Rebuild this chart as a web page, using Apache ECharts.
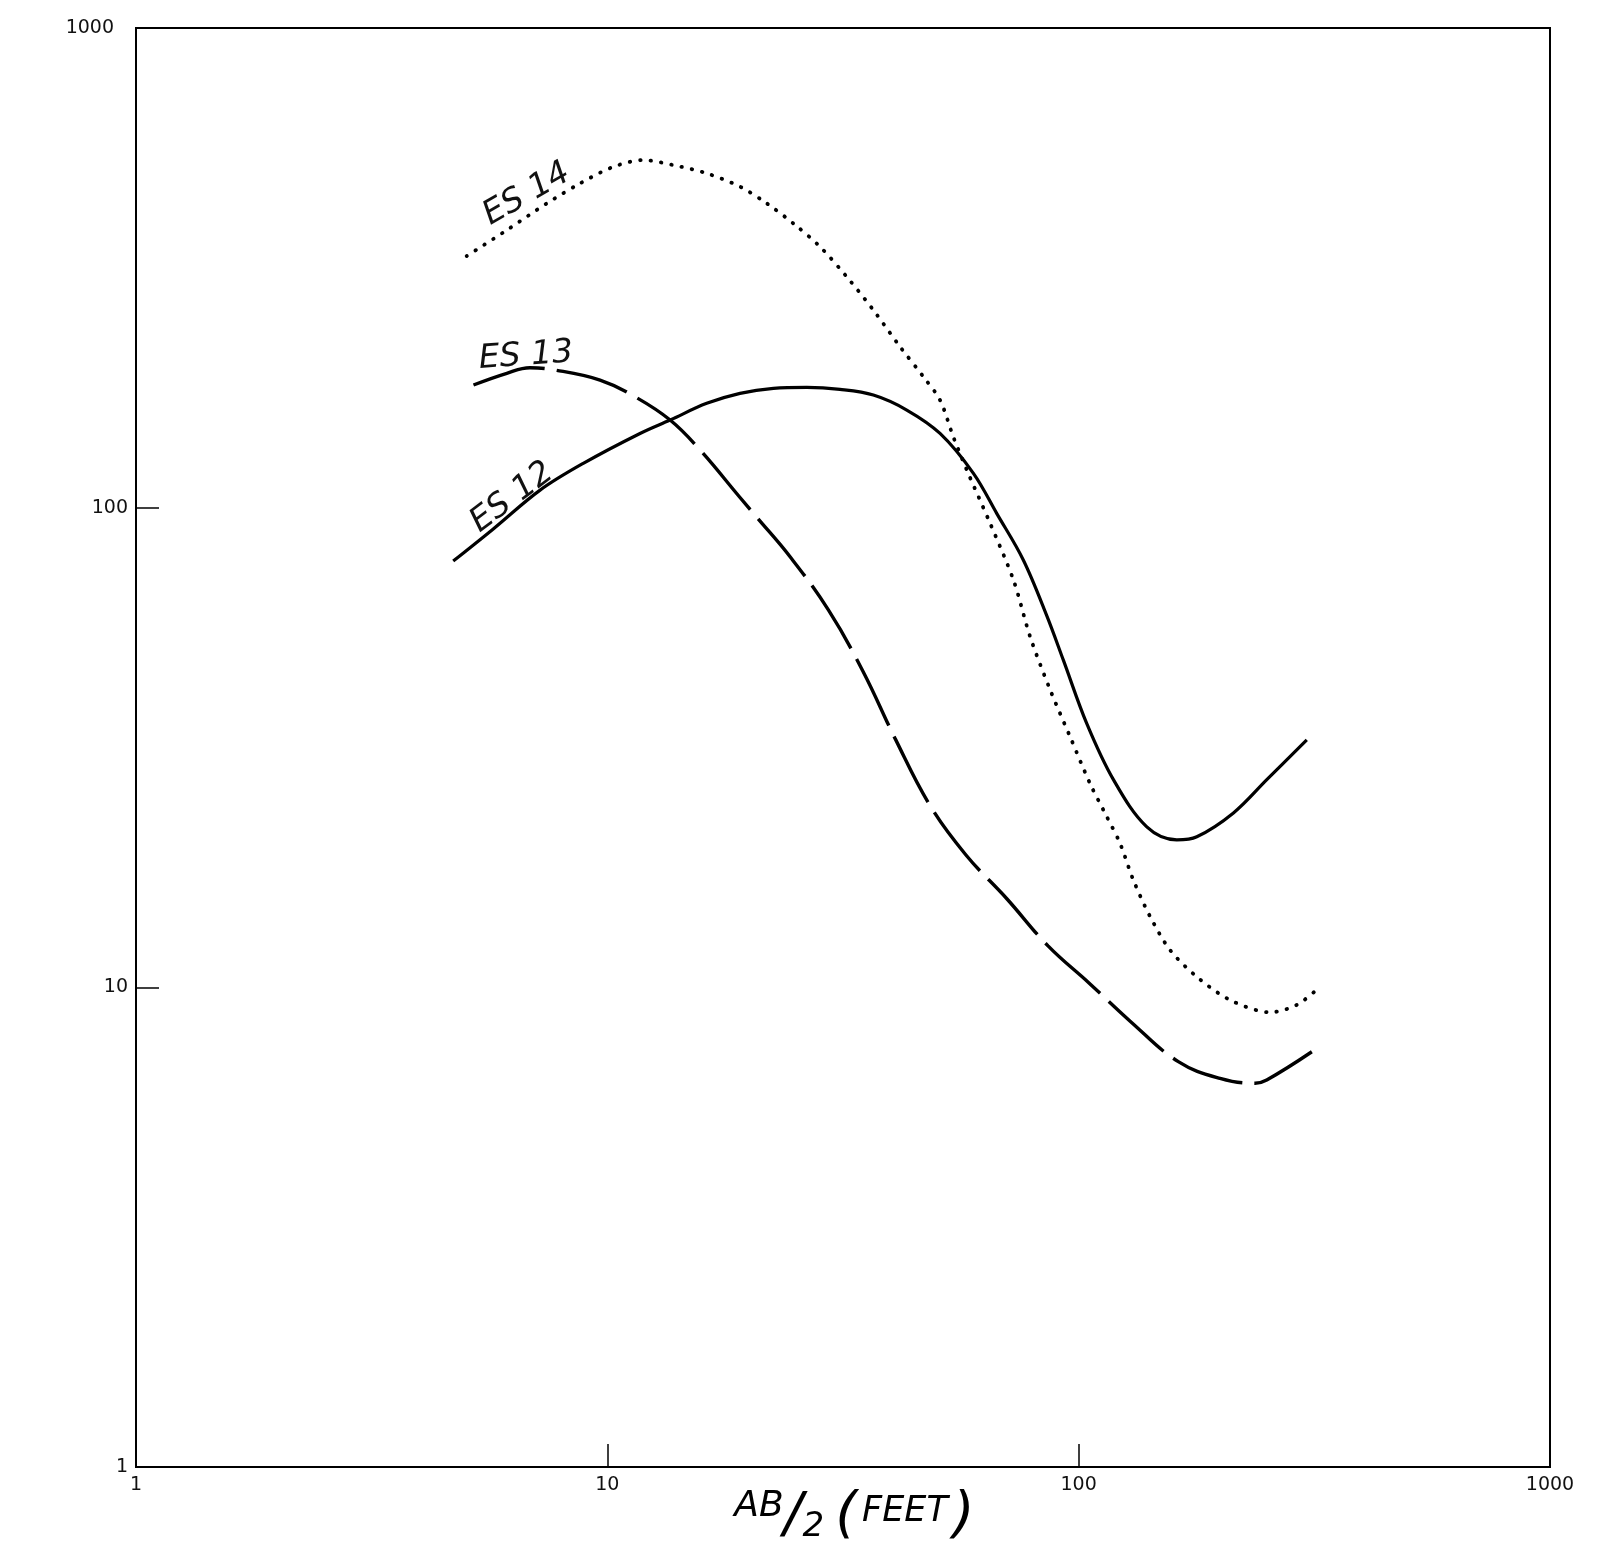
<!DOCTYPE html>
<html>
<head>
<meta charset="utf-8">
<title>ES 12 / ES 13 / ES 14</title>
<script src="https://cdn.jsdelivr.net/npm/echarts@6/dist/echarts.min.js"></script>
<style>
  html, body { margin: 0; padding: 0; background: #fff; }
  #chart { width: 1611px; height: 1566px; }
</style>
</head>
<body>
<div id="chart"></div>
<script>
// AB/2 (feet) and apparent resistivity
const es12X = [4.71, 5.72, 7.2, 8.89, 11.73, 13.59, 16.25, 19.12, 22.51, 26.49, 31.16, 36.68, 43.18, 50.8, 59.8, 67.0, 76.3, 85.6, 92.8, 104, 118.5, 139.5, 161.5, 178.1, 213, 250.7, 304.8];
const es12Y = [77.4, 90.2, 108.8, 123.7, 142.8, 152.3, 165, 173.1, 177.3, 178.1, 176.4, 171.7, 159.8, 142.8, 117.9, 97.3, 77.8, 59.5, 48.1, 35.5, 27.1, 21.6, 20.3, 20.6, 23.1, 27.1, 32.8];

const es13X = [5.2, 6.12, 6.85, 7.75, 9.65, 11.45, 13.59, 15.73, 19.12, 20.75, 24.42, 29.44, 34.9, 40.8, 48.3, 57.6, 70.4, 86.1, 105.3, 128.6, 162.7, 199.5, 236.7, 250.6, 312.4];
const es13Y = [180.2, 190.6, 195.7, 193.6, 184.5, 170.3, 152.3, 131.9, 105, 95.5, 79.0, 61.2, 45.5, 33, 24, 18.9, 15.3, 12.2, 10.2, 8.5, 7.0, 6.46, 6.31, 6.41, 7.34];

const es14X = [5.03, 6.12, 7.44, 8.75, 10.3, 11.92, 13.8, 16.25, 19.12, 21.79, 24.81, 28.27, 32.21, 36.68, 41.79, 46.83, 50.8, 54.2, 57.9, 64.9, 72.7, 78.9, 87.0, 95.9, 105.7, 114.7, 122.4, 130.6, 141.8, 156.3, 178.1, 209.5, 254.7, 290.2, 325.2];
const es14Y = [334.6, 379, 430.9, 474.2, 513.6, 530.4, 517.9, 497.7, 466.9, 430.9, 391.4, 349.9, 302.9, 258.2, 216.5, 187.5, 167.6, 140.5, 119.8, 92.7, 70.7, 53.8, 41.7, 33.3, 26.6, 22.7, 19.96, 16.74, 14.04, 11.96, 10.52, 9.41, 8.87, 9.19, 10.03];

const tickValues = [1, 10, 100, 1000];

// curve name and where its hand-lettered tag sits (data coords)
const curveTags = [
  { name: 'ES 14', at: [6.75, 450], rot: 30 },
  { name: 'ES 13', at: [6.72, 207], rot: 4 },
  { name: 'ES 12', at: [6.28, 105], rot: 37 }
];

function pairs(xs, ys) {
  return xs.map((x, i) => [x, ys[i]]);
}

const myChart = echarts.init(document.getElementById('chart'));

myChart.setOption({
  animation: false,
  backgroundColor: '#fff',
  grid: {
    left: 136,
    right: 61,
    top: 28,
    bottom: 99,
    show: true,
    borderColor: '#000',
    borderWidth: 2
  },
  xAxis: {
    type: 'log',
    logBase: 10,
    min: 1,
    max: 1000,
    axisLine: { show: true, lineStyle: { color: '#000', width: 2 } },
    axisTick: { show: true, inside: true, length: 23, lineStyle: { color: '#000', width: 1.5 } },
    splitLine: { show: false },
    axisLabel: {
      margin: 9,
      color: '#111',
      fontFamily: 'DejaVu Sans',
      fontSize: 19,
      formatter: v => String(Math.round(v))
    }
  },
  yAxis: {
    type: 'log',
    logBase: 10,
    min: 1,
    max: 1000,
    axisLine: { show: true, lineStyle: { color: '#000', width: 2 } },
    axisTick: { show: true, inside: true, length: 23, lineStyle: { color: '#000', width: 1.5 } },
    splitLine: { show: false },
    axisLabel: {
      margin: 8,
      color: '#111',
      fontFamily: 'DejaVu Sans',
      fontSize: 19,
      formatter: v => {
        const s = String(Math.round(v));
        return s === '1000' ? '{k|' + s + '}' : s;
      },
      rich: {
        k: { fontFamily: 'DejaVu Sans', fontSize: 19, color: '#111', padding: [0, 14, 0, 0] }
      }
    }
  },
  series: [
    {
      name: 'ES 12',
      type: 'line',
      data: pairs(es12X, es12Y),
      smooth: 0.35,
      showSymbol: false,
      lineStyle: { color: '#000', width: 3.2 }
    },
    {
      name: 'ES 13',
      type: 'line',
      data: pairs(es13X, es13Y),
      smooth: 0.4,
      showSymbol: false,
      lineStyle: { color: '#000', width: 3.4, type: [74, 12] }
    },
    {
      name: 'ES 14',
      type: 'line',
      data: pairs(es14X, es14Y),
      smooth: 0.3,
      showSymbol: false,
      lineStyle: { color: '#000', width: 3.8, type: [0.5, 10], cap: 'round' }
    }
  ]
});

// hand lettering: curve tags and the x title
const tagEls = curveTags.map(t => {
  const p = myChart.convertToPixel({ gridIndex: 0 }, t.at);
  return {
    type: 'text',
    x: p[0],
    y: p[1],
    rotation: t.rot * Math.PI / 180,
    style: {
      text: t.name,
      fill: '#111',
      fontFamily: 'DejaVu Sans',
      fontStyle: 'italic',
      fontSize: 33,
      align: 'center',
      verticalAlign: 'middle'
    }
  };
});

const titleFont = { fontFamily: 'DejaVu Sans', fontStyle: 'italic', color: '#111', verticalAlign: 'middle' };

myChart.setOption({
  graphic: tagEls.concat([{
    type: 'text',
    x: 857,
    y: 1516,
    style: {
      text: '{a|AB}{s|/}{b|2}{p|(}{c|FEET}{p|)}',
      align: 'center',
      verticalAlign: 'middle',
      rich: {
        a: Object.assign({ fontSize: 36, padding: [0, 0, 18, 0] }, titleFont),
        s: Object.assign({ fontSize: 56 }, titleFont),
        b: Object.assign({ fontSize: 34, padding: [22, 6, 0, 0] }, titleFont),
        p: Object.assign({ fontSize: 56, padding: [0, 5, 0, 5] }, titleFont),
        c: Object.assign({ fontSize: 35, padding: [0, 0, 8, 0] }, titleFont)
      }
    }
  }])
});

window.onresize = function () {
  myChart.resize();
};
</script>
</body>
</html>
